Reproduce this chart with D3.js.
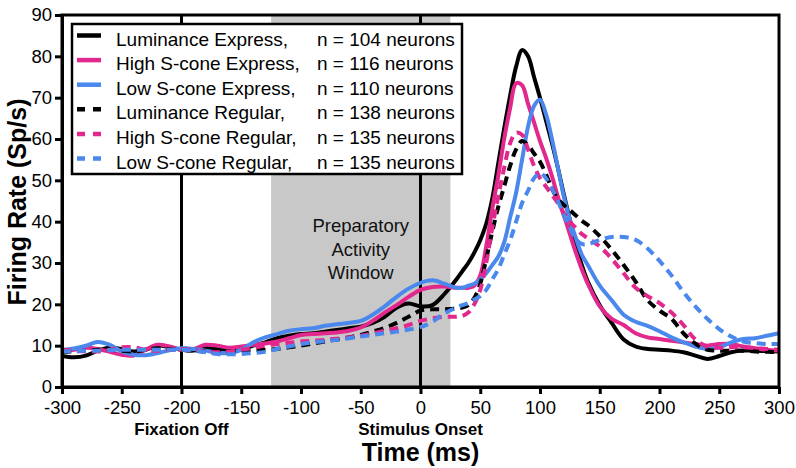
<!DOCTYPE html>
<html><head><meta charset="utf-8">
<script src="https://cdn.jsdelivr.net/npm/d3@7"></script>
<style>
html,body{margin:0;padding:0;background:#fff;}
text{font-family:"Liberation Sans",Arial,Helvetica,sans-serif;}
</style>
</head><body>
<svg id="chart" width="796" height="468"></svg>
<script>
const time = [-300,-290,-280,-270,-260,-250,-240,-230,-220,-210,-200,-190,-180,-170,-160,-150,-140,-130,-120,-110,-100,-90,-80,-70,-60,-50,-40,-30,-20,-10,0,10,20,30,
  35,40,45,50,55,60,65,70,75,80,85,90,95,100,105,110,115,120,125,130,135,
  140,150,160,170,180,190,200,210,220,230,240,250,260,270,280,290,300];

const lumExpress = [7.5,7.2,7.6,8.8,9.5,9.2,8.6,9.0,10.0,9.6,9.0,8.8,9.4,9.2,8.9,9.3,10.0,10.8,11.8,12.4,12.8,13.0,13.4,13.8,14.2,14.6,15.5,17.0,19.2,20.2,19.5,19.8,22.5,26.0,
  28.0,30.0,32.5,35.5,39.5,45.5,54.0,62.5,70.5,77.5,81.5,80.0,75.0,70.0,64.5,59.0,53.0,46.5,40.5,34.5,29.5,
  25.5,19.8,15.5,11.5,9.8,9.2,9.0,8.8,8.4,7.6,6.8,7.5,8.4,8.8,8.8,8.7,8.6];
const highSExpress = [8.5,9.0,9.5,9.2,8.5,7.8,7.6,9.0,10.2,9.8,9.0,9.2,10.2,10.0,9.5,9.8,10.2,10.5,11.0,11.8,12.6,12.8,13.0,13.2,13.6,14.4,16.0,18.0,19.8,21.8,23.5,24.2,24.3,24.0,
  24.0,24.0,24.5,27.0,34.0,43.0,51.0,60.0,67.5,73.5,73.0,68.5,64.0,59.5,55.5,51.0,46.0,41.5,37.0,32.5,28.5,
  25.0,19.5,16.5,15.0,13.0,12.0,11.6,11.2,10.8,10.4,10.0,10.4,10.4,9.8,9.4,9.0,8.8];
const lowSExpress = [9.0,9.3,10.0,10.9,10.2,8.6,7.8,7.7,8.2,8.9,9.4,9.2,8.8,8.3,8.2,9.0,10.8,12.0,12.8,13.6,14.0,14.2,14.8,15.2,15.5,16.0,17.5,19.5,21.8,23.8,25.2,25.8,25.0,24.0,
  24.0,24.5,25.0,26.0,27.5,29.5,31.5,35.0,41.0,47.0,55.0,63.0,68.0,69.5,66.0,60.0,53.0,46.0,40.5,36.0,32.0,
  29.5,24.5,21.0,17.5,15.8,14.8,13.5,12.0,10.8,9.8,9.2,9.6,10.8,11.6,11.8,12.4,13.0];
const lumRegular = [8.5,8.6,8.8,9.0,9.0,8.8,8.6,9.0,9.4,9.2,9.0,8.8,8.6,8.6,8.6,8.8,9.0,9.0,9.2,9.6,10.0,10.5,11.0,11.5,12.0,12.6,13.4,14.3,15.5,17.0,18.5,18.8,18.8,19.0,
  19.2,19.8,21.5,25.0,31.0,37.5,43.5,48.5,53.5,57.5,59.5,58.5,56.5,54.5,51.5,48.0,45.5,44.0,42.8,41.5,40.2,
  39.2,36.5,33.2,29.5,25.5,21.0,18.5,16.5,13.0,10.5,9.0,8.8,8.8,8.8,8.6,8.5,8.5];
const highSRegular = [9.0,8.8,8.6,8.6,9.0,9.6,9.6,9.0,8.8,9.0,9.2,9.0,8.6,8.4,8.6,9.0,9.5,10.0,10.4,10.7,11.0,11.2,11.4,11.7,12.0,12.4,13.0,13.6,14.2,15.0,16.0,16.6,17.0,17.0,
  17.2,18.0,20.0,23.5,30.0,38.5,46.0,53.0,59.0,61.5,61.0,57.5,53.5,50.5,48.5,46.5,44.5,42.0,40.0,38.5,37.0,
  36.0,34.0,31.0,27.5,24.0,22.0,20.3,18.0,15.0,11.5,9.8,9.5,9.6,9.6,9.4,9.2,9.0];
const lowSRegular = [8.6,8.7,8.8,8.8,8.9,9.0,9.0,9.0,9.0,9.0,9.0,8.8,8.4,8.0,7.9,8.0,8.2,8.5,9.2,9.8,10.4,10.8,11.1,11.4,11.8,12.2,12.6,13.0,13.4,13.9,14.5,15.8,17.8,19.2,
  19.8,20.3,21.2,22.0,23.5,26.0,28.5,32.0,35.5,40.0,44.5,47.5,50.5,51.8,50.5,48.0,45.0,41.5,38.5,35.8,34.6,
  34.6,35.6,36.3,36.3,35.6,33.5,30.5,27.0,23.0,19.5,16.5,14.0,12.2,11.0,10.6,10.4,10.4];

const seriesNames = ["Luminance Express,","High S-cone Express,","Low S-cone Express,","Luminance Regular,","High S-cone Regular,","Low S-cone Regular,"];
const seriesCounts = ["n = 104 neurons","n = 116 neurons","n = 110 neurons","n = 138 neurons","n = 135 neurons","n = 135 neurons"];
const seriesValues = [lumExpress, highSExpress, lowSExpress, lumRegular, highSRegular, lowSRegular];
const seriesColors = ["#000000","#e2288c","#4a88ee","#000000","#e2288c","#4a88ee"];
const seriesDashed = [false,false,false,true,true,true];

const xTicks = [-300,-250,-200,-150,-100,-50,0,50,100,150,200,250,300];
const yTicks = [0,10,20,30,40,50,60,70,80,90];
const windowRange = [-125, 25];
const eventLines = [-200, 0];
const eventLabels = ["Fixation Off","Stimulus Onset"];
const windowLabel = ["Preparatory","Activity","Window"];

const svg = d3.select("#chart");
const x = d3.scaleLinear().domain([-300,300]).range([62,779]);
const y = d3.scaleLinear().domain([0,90]).range([387,15]);

// gray window
svg.append("rect")
  .attr("x", x(windowRange[0])).attr("y", y(90))
  .attr("width", x(windowRange[1]) - x(windowRange[0]))
  .attr("height", y(0) - y(90))
  .attr("fill", "#c8c8c8");

svg.append("g").selectAll("text").data(windowLabel).join("text")
  .attr("x", x((windowRange[0]+windowRange[1])/2))
  .attr("y", (d,i) => 232 + i*23.5)
  .attr("text-anchor","middle")
  .attr("font-size", 18.5)
  .attr("fill","#111")
  .text(d => d);

// event lines
svg.append("g").selectAll("line").data(eventLines).join("line")
  .attr("x1", d => x(d)).attr("x2", d => x(d))
  .attr("y1", y(90)).attr("y2", y(0))
  .attr("stroke","#000").attr("stroke-width",3);

// curves
const line = d3.line()
  .x((d,i) => x(time[i]))
  .y(d => y(d))
  .curve(d3.curveCatmullRom.alpha(0.5));

const curves = svg.append("g");
seriesValues.forEach((vals, k) => {
  curves.append("path")
    .attr("d", line(vals))
    .attr("fill","none")
    .attr("stroke", seriesColors[k])
    .attr("stroke-width", 4)
    .attr("stroke-linejoin","round")
    .attr("stroke-dasharray", seriesDashed[k] ? "9,6" : null);
});

// frame
svg.append("rect")
  .attr("x", x(-300)).attr("y", y(90))
  .attr("width", x(300)-x(-300)).attr("height", y(0)-y(90))
  .attr("fill","none").attr("stroke","#000").attr("stroke-width",3);

// axes
const fmt = d => String(d);
const xAxis = svg.append("g").attr("transform", `translate(0,${y(0)})`)
  .call(d3.axisBottom(x).tickValues(xTicks).tickFormat(fmt).tickSize(7).tickSizeOuter(0).tickPadding(7));
const yAxis = svg.append("g").attr("transform", `translate(${x(-300)},0)`)
  .call(d3.axisLeft(y).tickValues(yTicks).tickFormat(fmt).tickSize(7).tickSizeOuter(0).tickPadding(3));
[xAxis, yAxis].forEach(g => {
  g.select(".domain").attr("stroke","#000").attr("stroke-width",3);
  g.selectAll(".tick line").attr("stroke","#000").attr("stroke-width",3);
  g.selectAll(".tick text").attr("font-size",18.5).attr("fill","#000")
    .attr("font-family","'Liberation Sans',Arial,Helvetica,sans-serif");
});

// event labels
svg.append("g").selectAll("text").data(eventLabels).join("text")
  .attr("x", (d,i) => x(eventLines[i]))
  .attr("y", 434.5)
  .attr("text-anchor","middle")
  .attr("font-size", 17)
  .attr("font-weight","bold")
  .text(d => d);

// axis titles
svg.append("text")
  .attr("x", x(0)).attr("y", 461)
  .attr("text-anchor","middle")
  .attr("font-size", 25).attr("font-weight","bold")
  .text("Time (ms)");
svg.append("text")
  .attr("transform", "translate(26,202) rotate(-90)")
  .attr("text-anchor","middle")
  .attr("font-size", 25).attr("font-weight","bold")
  .text("Firing Rate (Sp/s)");

// legend
const lg = svg.append("g");
lg.append("rect").attr("x",72).attr("y",24).attr("width",390).attr("height",150)
  .attr("fill","#fff").attr("stroke","#000").attr("stroke-width",2.5);
seriesNames.forEach((name,k) => {
  const cy = 35.5 + k*24.6;
  lg.append("line").attr("x1",77).attr("x2",101).attr("y1",cy).attr("y2",cy)
    .attr("stroke",seriesColors[k]).attr("stroke-width",4.5)
    .attr("stroke-dasharray", seriesDashed[k] ? "8,8" : null);
  lg.append("text").attr("x",116).attr("y",cy+10).attr("font-size",19).text(name);
  lg.append("text").attr("x",317).attr("y",cy+10).attr("font-size",19).text(seriesCounts[k]);
});
</script>
</body></html>
